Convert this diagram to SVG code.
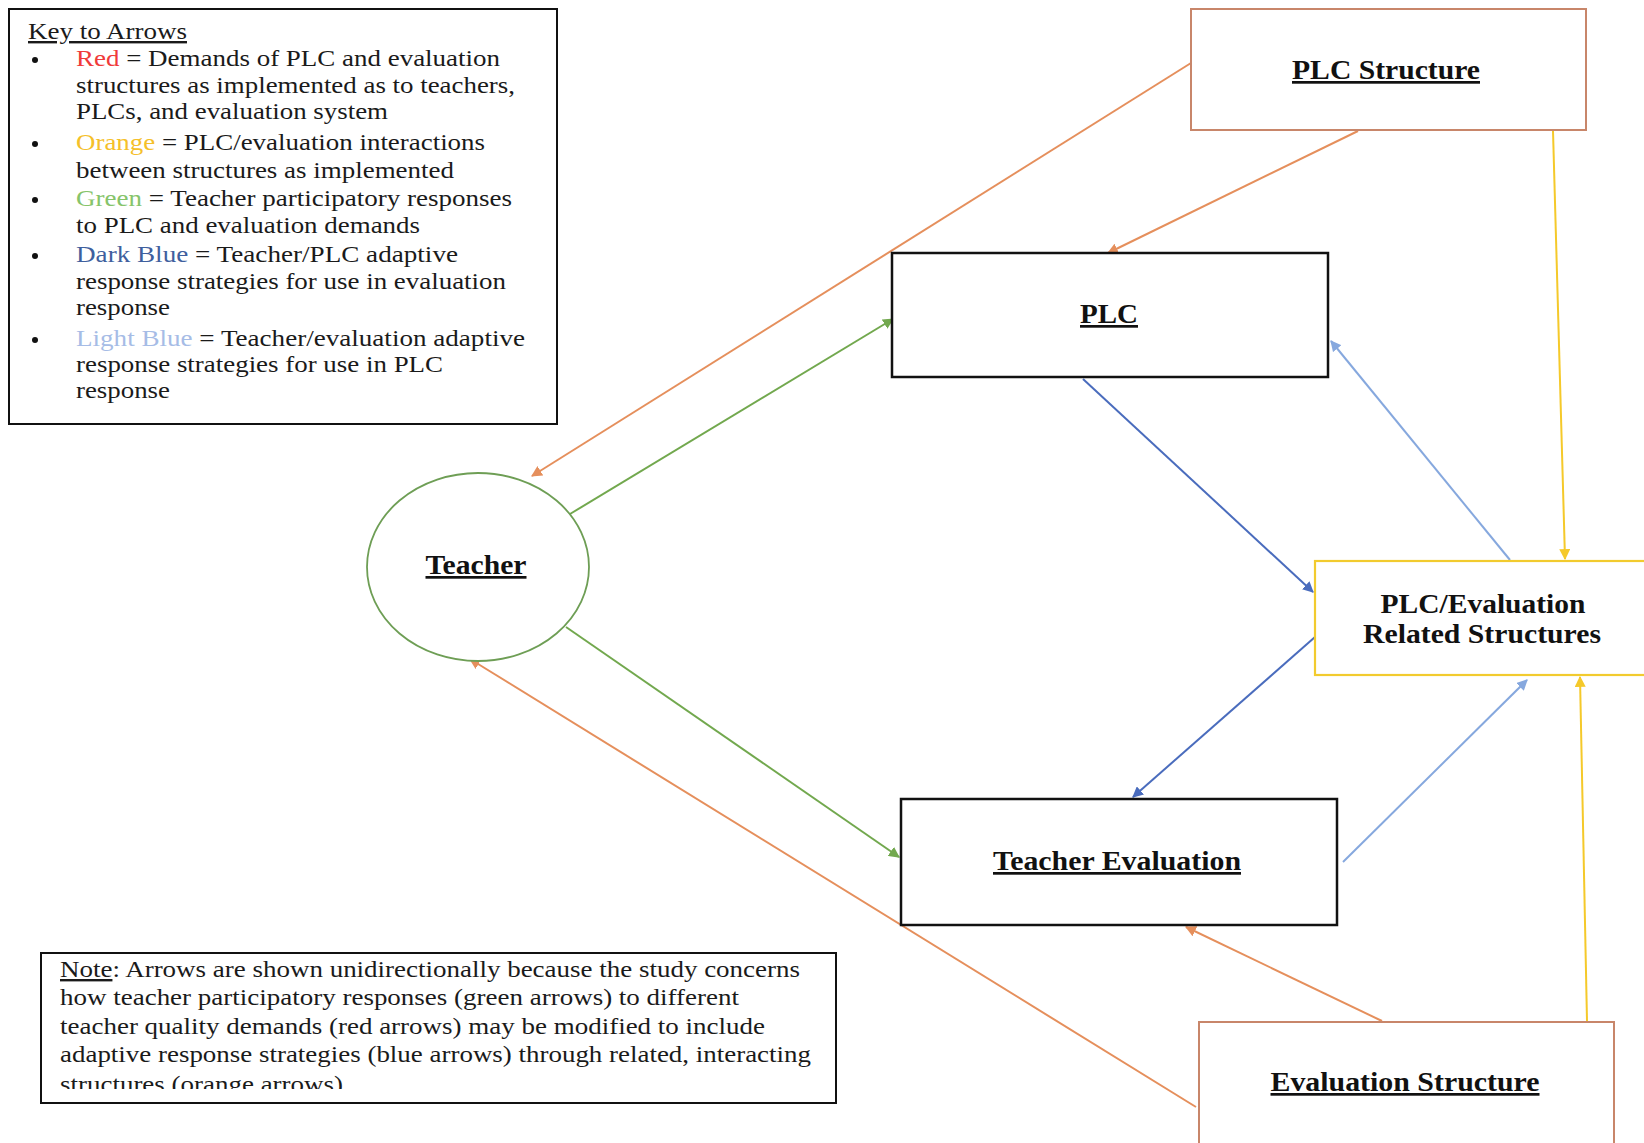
<svg xmlns="http://www.w3.org/2000/svg" width="1644" height="1143" viewBox="0 0 1644 1143">
<defs>
<style>
.lg{font-family:"Liberation Serif","Times New Roman",serif;font-size:24px;fill:#1a1a1a}
.nt{font-family:"Liberation Serif","Times New Roman",serif;font-size:24px;fill:#1a1a1a}
.lbl{font-family:"Liberation Serif","Times New Roman",serif;font-size:27px;font-weight:bold;fill:#111;text-anchor:middle}
.u{text-decoration:underline}
.blk{fill:#fff;stroke:#111;stroke-width:2.5}
.org{fill:#fff;stroke:#c8866a;stroke-width:2}
.yel{fill:#fff;stroke:#f2cb2e;stroke-width:2.2}
.c{fill:none;stroke-width:2}
.co{stroke:#e58f5c}
.cy{stroke:#f5c92a}
.cg{stroke:#72a84e}
.cd{stroke:#4a6cbd}
.cl{stroke:#86a8de}
</style>
<marker id="ao" viewBox="0 0 10 10" refX="9" refY="5" markerWidth="11" markerHeight="11" markerUnits="userSpaceOnUse" orient="auto"><path d="M0,0L10,5L0,10z" fill="#e58f5c"/></marker>
<marker id="ay" viewBox="0 0 10 10" refX="9" refY="5" markerWidth="11" markerHeight="11" markerUnits="userSpaceOnUse" orient="auto"><path d="M0,0L10,5L0,10z" fill="#f5c92a"/></marker>
<marker id="ag" viewBox="0 0 10 10" refX="9" refY="5" markerWidth="11" markerHeight="11" markerUnits="userSpaceOnUse" orient="auto"><path d="M0,0L10,5L0,10z" fill="#72a84e"/></marker>
<marker id="ad" viewBox="0 0 10 10" refX="9" refY="5" markerWidth="11" markerHeight="11" markerUnits="userSpaceOnUse" orient="auto"><path d="M0,0L10,5L0,10z" fill="#4a6cbd"/></marker>
<marker id="al" viewBox="0 0 10 10" refX="9" refY="5" markerWidth="11" markerHeight="11" markerUnits="userSpaceOnUse" orient="auto"><path d="M0,0L10,5L0,10z" fill="#86a8de"/></marker>
<clipPath id="noteclip"><rect x="41" y="953" width="795" height="136"/></clipPath>
</defs>
<rect width="1644" height="1143" fill="#fff"/>

<g id="connectors">
<line class="c co" x1="1191" y1="63" x2="532" y2="476" marker-end="url(#ao)"/>
<line class="c co" x1="1358" y1="131" x2="1108" y2="253" marker-end="url(#ao)"/>
<line class="c co" x1="1196" y1="1107" x2="470" y2="659" marker-end="url(#ao)"/>
<line class="c co" x1="1382" y1="1021" x2="1186" y2="927" marker-end="url(#ao)"/>
<line class="c cy" x1="1553" y1="131" x2="1565" y2="559" marker-end="url(#ay)"/>
<line class="c cy" x1="1587" y1="1021" x2="1580" y2="677" marker-end="url(#ay)"/>
<line class="c cg" x1="570" y1="514" x2="893" y2="319" marker-end="url(#ag)"/>
<line class="c cg" x1="566" y1="627" x2="899" y2="857" marker-end="url(#ag)"/>
<line class="c cd" x1="1083" y1="379" x2="1313" y2="592" marker-end="url(#ad)"/>
<line class="c cd" x1="1315" y1="637" x2="1133" y2="797" marker-end="url(#ad)"/>
<line class="c cl" x1="1510" y1="560" x2="1331" y2="341" marker-end="url(#al)"/>
<line class="c cl" x1="1343" y1="862" x2="1527" y2="680" marker-end="url(#al)"/>
</g>

<g id="legend">
<rect x="9" y="9" width="548" height="415" fill="#fff" stroke="#111" stroke-width="2"/>
<text class="lg u" x="28" y="39" textLength="159" lengthAdjust="spacingAndGlyphs">Key to Arrows</text>
<circle cx="35" cy="60" r="3" fill="#111"/>
<text class="lg" x="76" y="66" textLength="424" lengthAdjust="spacingAndGlyphs"><tspan fill="#f03a3a">Red</tspan> = Demands of PLC and evaluation</text>
<text class="lg" x="76" y="93" textLength="439" lengthAdjust="spacingAndGlyphs">structures as implemented as to teachers,</text>
<text class="lg" x="76" y="119" textLength="312" lengthAdjust="spacingAndGlyphs">PLCs, and evaluation system</text>
<circle cx="35" cy="144" r="3" fill="#111"/>
<text class="lg" x="76" y="150" textLength="409" lengthAdjust="spacingAndGlyphs"><tspan fill="#f5c02a">Orange</tspan> = PLC/evaluation interactions</text>
<text class="lg" x="76" y="178" textLength="378" lengthAdjust="spacingAndGlyphs">between structures as implemented</text>
<circle cx="35" cy="200" r="3" fill="#111"/>
<text class="lg" x="76" y="206" textLength="436" lengthAdjust="spacingAndGlyphs"><tspan fill="#86c46a">Green</tspan> = Teacher participatory responses</text>
<text class="lg" x="76" y="233" textLength="344" lengthAdjust="spacingAndGlyphs">to PLC and evaluation demands</text>
<circle cx="35" cy="256" r="3" fill="#111"/>
<text class="lg" x="76" y="262" textLength="382" lengthAdjust="spacingAndGlyphs"><tspan fill="#3f5f9e">Dark Blue</tspan> = Teacher/PLC adaptive</text>
<text class="lg" x="76" y="289" textLength="430" lengthAdjust="spacingAndGlyphs">response strategies for use in evaluation</text>
<text class="lg" x="76" y="315" textLength="94" lengthAdjust="spacingAndGlyphs">response</text>
<circle cx="35" cy="340" r="3" fill="#111"/>
<text class="lg" x="76" y="346" textLength="449" lengthAdjust="spacingAndGlyphs"><tspan fill="#a6bce6">Light Blue</tspan> = Teacher/evaluation adaptive</text>
<text class="lg" x="76" y="372" textLength="367" lengthAdjust="spacingAndGlyphs">response strategies for use in PLC</text>
<text class="lg" x="76" y="398" textLength="94" lengthAdjust="spacingAndGlyphs">response</text>
</g>

<g id="plc-structure">
<rect class="org" x="1191" y="9" width="395" height="121"/>
<text class="lbl u" x="1386" y="79" textLength="188" lengthAdjust="spacingAndGlyphs">PLC Structure</text>
</g>

<g id="plc">
<rect class="blk" x="892" y="253" width="436" height="124"/>
<text class="lbl u" x="1109" y="323" textLength="58" lengthAdjust="spacingAndGlyphs">PLC</text>
</g>

<g id="teacher">
<ellipse cx="478" cy="567" rx="111" ry="94" fill="#fff" stroke="#6e9e55" stroke-width="1.8"/>
<text class="lbl u" x="476" y="574" textLength="101" lengthAdjust="spacingAndGlyphs">Teacher</text>
</g>

<g id="plc-eval-related">
<rect class="yel" x="1315" y="561" width="340" height="114"/>
<text class="lbl" x="1483" y="613" textLength="205" lengthAdjust="spacingAndGlyphs">PLC/Evaluation</text>
<text class="lbl" x="1482" y="643" textLength="238" lengthAdjust="spacingAndGlyphs">Related Structures</text>
</g>

<g id="teacher-evaluation">
<rect class="blk" x="901" y="799" width="436" height="126"/>
<text class="lbl u" x="1117" y="870" textLength="248" lengthAdjust="spacingAndGlyphs">Teacher Evaluation</text>
</g>

<g id="evaluation-structure">
<rect class="org" x="1199" y="1022" width="415" height="135"/>
<text class="lbl u" x="1405" y="1091" textLength="269" lengthAdjust="spacingAndGlyphs">Evaluation Structure</text>
</g>

<g id="note">
<rect x="41" y="953" width="795" height="150" fill="#fff" stroke="#111" stroke-width="2"/>
<g clip-path="url(#noteclip)">
<text class="nt" x="60" y="977" textLength="740" lengthAdjust="spacingAndGlyphs"><tspan class="u">Note</tspan>: Arrows are shown unidirectionally because the study concerns</text>
<text class="nt" x="60" y="1005" textLength="679" lengthAdjust="spacingAndGlyphs">how teacher participatory responses (green arrows) to different</text>
<text class="nt" x="60" y="1034" textLength="705" lengthAdjust="spacingAndGlyphs">teacher quality demands (red arrows) may be modified to include</text>
<text class="nt" x="60" y="1062" textLength="751" lengthAdjust="spacingAndGlyphs">adaptive response strategies (blue arrows) through related, interacting</text>
<text class="nt" x="60" y="1092" textLength="283" lengthAdjust="spacingAndGlyphs">structures (orange arrows)</text>
</g>
</g>
</svg>
